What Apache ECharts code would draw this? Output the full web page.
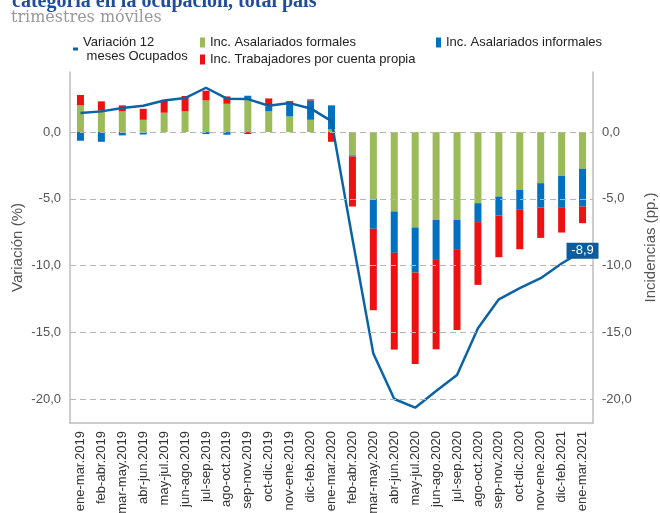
<!DOCTYPE html>
<html>
<head>
<meta charset="utf-8">
<script src="https://cdn.jsdelivr.net/npm/echarts@6/dist/echarts.min.js"></script>
<style>
  html, body { margin: 0; padding: 0; background: #fff; }
  #chart { width: 660px; height: 513px; }
</style>
</head>
<body>
<div id="chart"></div>
<script>
const categories = [
  'ene-mar.2019', 'feb-abr.2019', 'mar-may.2019', 'abr-jun.2019', 'may-jul.2019',
  'jun-ago.2019', 'jul-sep.2019', 'ago-oct.2019', 'sep-nov.2019', 'oct-dic.2019',
  'nov-ene.2019', 'dic-feb.2020', 'ene-mar.2020', 'feb-abr.2020', 'mar-may.2020',
  'abr-jun.2020', 'may-jul.2020', 'jun-ago.2020', 'jul-sep.2020', 'ago-oct.2020',
  'sep-nov.2020', 'oct-dic.2020', 'nov-ene.2020', 'dic-feb.2021', 'ene-mar.2021'
];

const formales = [2.0, 1.6, 1.55, 0.92, 1.45, 1.55, 2.37, 2.12, 2.42, 1.55, 1.17, 0.92, 0.2,
  -1.75, -5.0, -5.95, -7.15, -6.58, -6.58, -5.33, -4.83, -4.33, -3.83, -3.28, -2.75];
const informales = [-0.65, -0.73, -0.25, -0.18, 0, 0, -0.15, -0.2, 0.3, 0.37, 1.0, 1.45, 1.8,
  -0.08, -2.25, -3.1, -3.38, -3.0, -2.25, -1.42, -1.42, -1.45, -1.83, -2.35, -2.83];
const cuentaPropia = [0.78, 0.7, 0.45, 0.82, 0.9, 1.15, 0.73, 0.55, -0.15, 0.6, 0.15, 0.08, -0.73,
  -3.75, -6.1, -7.25, -6.85, -6.7, -6.0, -4.7, -3.13, -3.0, -2.27, -1.9, -1.25];
const ocupados = [1.42, 1.55, 1.8, 1.97, 2.37, 2.55, 3.32, 2.5, 2.47, 1.97, 2.17, 1.77, 0.82,
  -8.0, -16.6, -20.0, -20.65, -19.4, -18.2, -14.7, -12.53, -11.7, -10.95, -9.85, -8.9];

const yTicks = [0, -5, -10, -15, -20];

const fmt = (v) => v.toFixed(1).replace('.', ',');
const font = 'Liberation Sans, Arial, sans-serif';
const axisGray = '#bdbdbd';

const chart = echarts.init(document.getElementById('chart'));

const yAxisBase = {
  type: 'value',
  min: -21.8,
  max: 4.5,
  nameLocation: 'middle',
  nameRotate: 90,
  nameMoveOverlap: false,
  nameTextStyle: { fontFamily: font, fontSize: 15, color: '#555' },
  axisLine: { show: true, lineStyle: { color: axisGray, width: 1.5 } },
  axisTick: { show: false },
  splitLine: { show: false },
  axisLabel: {
    customValues: yTicks,
    formatter: fmt,
    fontFamily: font,
    fontSize: 13,
    color: '#555',
    margin: 9
  }
};

const lastIdx = ocupados.length - 1;

const option = {
  animation: false,
  title: [
    {
      text: 'categoría en la ocupación, total país',
      left: 7,
      top: -13,
      textStyle: { fontFamily: 'Liberation Serif, serif', fontWeight: 'bold', fontSize: 20, color: '#1f4c9c' }
    },
    {
      text: 'trimestres móviles',
      left: 6,
      top: 5,
      textStyle: { fontFamily: 'DejaVu Serif, serif', fontWeight: 'normal', fontSize: 16, color: '#999' }
    }
  ],
  legend: [
    {
      data: ['Variación 12 meses Ocupados'],
      left: 68, top: 30,
      icon: 'rect', itemWidth: 5, itemHeight: 3, itemGap: 4,
      formatter: () => 'Variación 12\n meses Ocupados',
      textStyle: { fontFamily: font, fontSize: 13, color: '#222', lineHeight: 14 }
    },
    {
      data: ['Inc. Asalariados formales'],
      left: 195, top: 31,
      icon: 'rect', itemWidth: 5, itemHeight: 10, itemGap: 4,
      textStyle: { fontFamily: font, fontSize: 13, color: '#222' }
    },
    {
      data: ['Inc. Asalariados informales'],
      left: 431, top: 31,
      icon: 'rect', itemWidth: 5, itemHeight: 10, itemGap: 4,
      textStyle: { fontFamily: font, fontSize: 13, color: '#222' }
    },
    {
      data: ['Inc. Trabajadores por cuenta propia'],
      left: 195, top: 48,
      icon: 'rect', itemWidth: 5, itemHeight: 10, itemGap: 4,
      textStyle: { fontFamily: font, fontSize: 13, color: '#222' }
    }
  ],
  grid: { left: 70, right: 67, top: 72, bottom: 90, outerBoundsMode: 'none' },
  xAxis: {
    type: 'category',
    data: categories,
    axisLine: { onZero: false, lineStyle: { color: axisGray, width: 1.5 } },
    axisTick: { alignWithLabel: true, length: 5, lineStyle: { color: '#999' } },
    axisLabel: {
      rotate: 90,
      interval: 0,
      fontFamily: font,
      fontSize: 13,
      color: '#333',
      margin: 8
    }
  },
  yAxis: [
    Object.assign({}, yAxisBase, { position: 'left', name: 'Variación (%)', nameGap: 45 }),
    Object.assign({}, yAxisBase, { position: 'right', name: 'Incidencias (pp.)', nameGap: 50 })
  ],
  series: [
    {
      name: 'grid',
      type: 'line',
      data: [],
      z: 1,
      silent: true,
      markLine: {
        silent: true,
        symbol: 'none',
        label: { show: false },
        lineStyle: { color: '#b5b5b5', type: [6, 4], width: 1.2 },
        data: yTicks.map((v) => ({ yAxis: v }))
      }
    },
    {
      name: 'Inc. Asalariados formales',
      type: 'bar',
      stack: 'inc',
      barWidth: 7,
      z: 2,
      itemStyle: { color: '#9bbb59' },
      data: formales
    },
    {
      name: 'Inc. Asalariados informales',
      type: 'bar',
      stack: 'inc',
      barWidth: 7,
      z: 2,
      itemStyle: { color: '#0070c0' },
      data: informales
    },
    {
      name: 'Inc. Trabajadores por cuenta propia',
      type: 'bar',
      stack: 'inc',
      barWidth: 7,
      z: 2,
      itemStyle: { color: '#ee1111' },
      data: cuentaPropia
    },
    {
      name: 'Variación 12 meses Ocupados',
      type: 'line',
      z: 3,
      symbol: 'none',
      lineStyle: { color: '#0a63a6', width: 2.5 },
      itemStyle: { color: '#0a63a6' },
      data: ocupados,
      markPoint: {
        symbol: 'rect',
        symbolSize: [32, 16],
        itemStyle: { color: '#0b5c9e' },
        label: {
          show: true,
          color: '#fff',
          fontFamily: font,
          fontSize: 13,
          formatter: () => fmt(ocupados[lastIdx])
        },
        data: [{ coord: [categories[lastIdx], ocupados[lastIdx]] }]
      }
    }
  ]
};

chart.setOption(option);
</script>
</body>
</html>
